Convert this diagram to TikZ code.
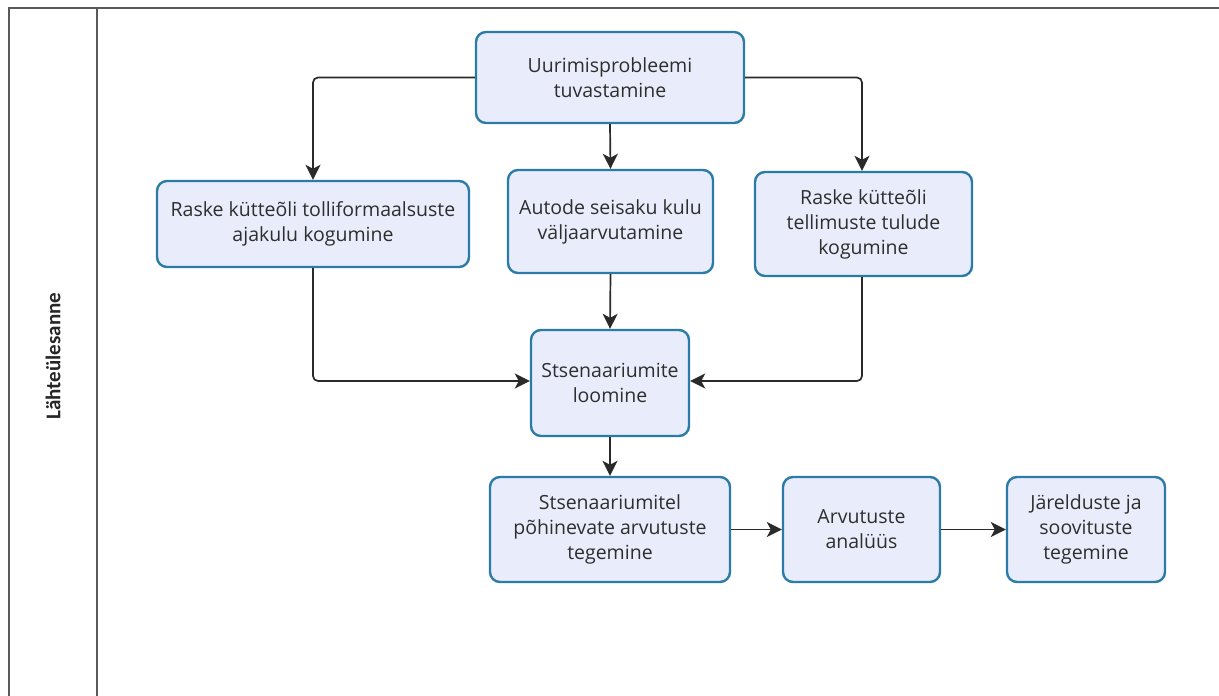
\documentclass[tikz,border=0pt]{standalone}
\usepackage{fontspec}
\setmainfont{Open Sans}
\newfontfamily\lanefont{Carlito}
\usetikzlibrary{arrows.meta}
\definecolor{boxfill}{HTML}{E9EDFB}
\definecolor{boxline}{HTML}{2B7BA6}
\definecolor{wire}{HTML}{2A2A2A}
\definecolor{frameline}{HTML}{5A5A5A}
\tikzset{
  stepbox/.style={draw=boxline, line width=2.4pt, fill=boxfill, rounded corners=10pt,
    align=center, font=\fontsize{19.5}{25}\selectfont, text=black!82, inner sep=0pt},
  flow/.style={draw=wire, line width=1.7pt, rounded corners=5pt,
    -{Stealth[length=15pt,width=15pt,inset=4pt]}},
}
\begin{document}
\begin{tikzpicture}[x=1pt, y=-1pt]
\useasboundingbox[fill=white] (0,0) rectangle (1219,696);
% swimlane frame
\draw[frameline, line width=2pt] (9,700) -- (9,8) -- (1225,8);
\draw[frameline, line width=2pt] (97,8) -- (97,700);
\node[rotate=90, font=\lanefont\bfseries\fontsize{21}{24}\selectfont, text=black!85] (lane) at (53,356) {Lähteülesanne};

% process steps
\node[stepbox, minimum width=268pt, minimum height=91pt] (prob) at (610,77.5) {Uurimisprobleemi\\tuvastamine};
\node[stepbox, minimum width=312pt, minimum height=86pt] (toll) at (313,224) {Raske kütteõli tolliformaalsuste\\ajakulu kogumine};
\node[stepbox, minimum width=205pt, minimum height=103pt] (auto) at (610.5,221.5) {Autode seisaku kulu\\väljaarvutamine};
\node[stepbox, minimum width=217pt, minimum height=104pt] (tell) at (863.5,224) {Raske kütteõli\\tellimuste tulude\\kogumine};
\node[stepbox, minimum width=158pt, minimum height=106pt] (stsen) at (610,383) {Stsenaariumite\\loomine};
\node[stepbox, minimum width=240pt, minimum height=105pt] (arv) at (610,529.5) {Stsenaariumitel\\põhinevate arvutuste\\tegemine};
\node[stepbox, minimum width=157pt, minimum height=105pt] (anal) at (861.5,529.5) {Arvutuste\\analüüs};
\node[stepbox, minimum width=158pt, minimum height=105pt] (jar) at (1086,529.5) {Järelduste ja\\soovituste\\tegemine};

% connectors
\draw[flow] (prob.west) -| (toll.north);
\draw[flow] (prob.south) -- (auto.north);
\draw[flow] (prob.east) -| (tell.north -| 862,0);
\draw[flow] (toll.south) |- (stsen.west |- 0,381);
\draw[flow] (auto.south) -- (stsen.north);
\draw[flow] (tell.south -| 862,0) |- (stsen.east |- 0,381);
\draw[flow] (stsen.south) -- (arv.north);
\draw[flow] (arv.east) -- (anal.west);
\draw[flow] (anal.east) -- (jar.west);
\end{tikzpicture}
\end{document}
